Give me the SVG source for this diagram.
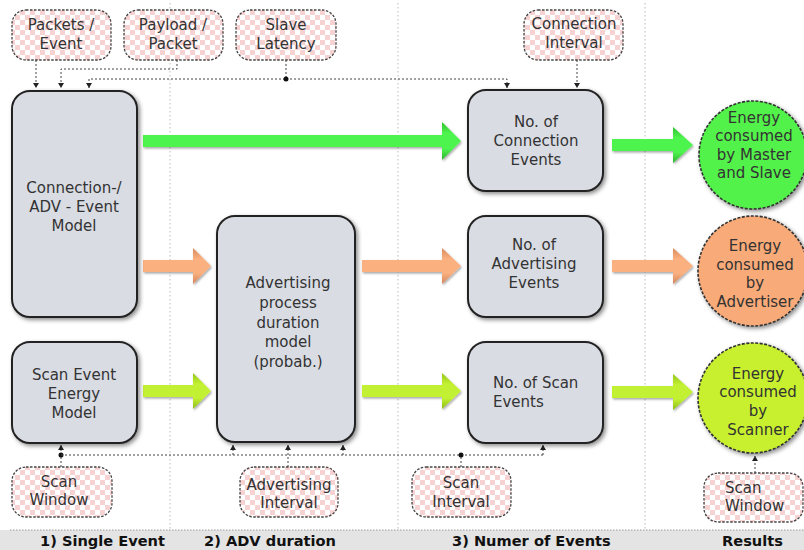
<svg xmlns="http://www.w3.org/2000/svg" width="804" height="550" viewBox="0 0 804 550">
<style>
text{font-family:"DejaVu Sans","Liberation Sans",sans-serif;font-size:15px;fill:#333;text-anchor:middle}
.lbl{font-weight:bold;font-size:14.6px;fill:#111;text-anchor:start}
.param{fill:url(#chk);stroke:#444;stroke-width:1.3;stroke-dasharray:2.5,1.5}
.box{fill:#d9dce3;stroke:#222;stroke-width:2;filter:url(#sh)}
.col{stroke:#bbb;stroke-width:1;stroke-dasharray:1.5,2.5;fill:none}
.con{stroke:#444;stroke-width:1;stroke-dasharray:2,2;fill:none}
.ar{stroke:none;filter:url(#sh2)}
.circ{stroke:#333;stroke-width:1.6;stroke-dasharray:3,1.5;filter:url(#sh)}
</style>
<defs>
<pattern id="chk" patternUnits="userSpaceOnUse" width="10" height="10">
<rect width="10" height="10" fill="#ffffff"/>
<rect width="5" height="5" fill="#f6d2d2"/>
<rect x="5" y="5" width="5" height="5" fill="#f6d2d2"/>
</pattern>
<filter id="sh" x="-20%" y="-20%" width="140%" height="140%">
<feDropShadow dx="2" dy="2" stdDeviation="2" flood-color="#000" flood-opacity="0.45"/>
</filter>
<filter id="sh2" x="-20%" y="-40%" width="140%" height="180%">
<feDropShadow dx="1" dy="1.5" stdDeviation="1.2" flood-color="#000" flood-opacity="0.35"/>
</filter>
<linearGradient id="gG" x1="0" y1="0" x2="0" y2="1">
<stop offset="0" stop-color="#2fc02f"/><stop offset="0.3" stop-color="#4ef44e"/><stop offset="0.7" stop-color="#4ef44e"/><stop offset="1" stop-color="#2fb02f"/>
</linearGradient>
<linearGradient id="gO" x1="0" y1="0" x2="0" y2="1">
<stop offset="0" stop-color="#d98a5c"/><stop offset="0.3" stop-color="#fab07f"/><stop offset="0.7" stop-color="#fab07f"/><stop offset="1" stop-color="#d2845a"/>
</linearGradient>
<linearGradient id="gY" x1="0" y1="0" x2="0" y2="1">
<stop offset="0" stop-color="#93c41a"/><stop offset="0.3" stop-color="#c2f032"/><stop offset="0.7" stop-color="#c2f032"/><stop offset="1" stop-color="#8cbb18"/>
</linearGradient>
<marker id="ah" markerUnits="userSpaceOnUse" markerWidth="6" markerHeight="6" refX="5" refY="3" orient="auto">
<path d="M0,0 L5,3 L0,6 z" fill="#222"/>
</marker>
</defs>

<g id="columns">
<line class="col" x1="170" y1="3" x2="170" y2="550"/>
<line class="col" x1="398" y1="3" x2="398" y2="550"/>
<line class="col" x1="645" y1="3" x2="645" y2="550"/>
</g>

<g id="band">
<rect x="0" y="530" width="804" height="20" fill="#e4e4e4"/>
<line x1="10" y1="530" x2="804" y2="530" stroke="#999" stroke-dasharray="1.5,1.5"/>
<text class="lbl" x="40" y="546">1) Single Event</text>
<text class="lbl" x="204" y="546">2) ADV duration</text>
<text class="lbl" x="452" y="546">3) Numer of Events</text>
<text class="lbl" x="722" y="546">Results</text>
</g>

<g id="connectors">
<path class="con" d="M36,60 V88" marker-end="url(#ah)"/>
<path class="con" d="M177,60 V69 H61 V88" marker-end="url(#ah)"/>
<path class="con" d="M286,60 V79 H89 V88" marker-end="url(#ah)"/>
<path class="con" d="M286,79 H507 V88" marker-end="url(#ah)"/>
<circle cx="286" cy="79" r="2.5" fill="#111"/>
<path class="con" d="M577,60 V88" marker-end="url(#ah)"/>
<path class="con" d="M61,467 V445" marker-end="url(#ah)"/>
<circle cx="61" cy="455" r="2.5" fill="#111"/>
<path class="con" d="M61,455 H543" stroke="#aaa"/>
<path class="con" d="M233,455 V445" marker-end="url(#ah)"/>
<path class="con" d="M343,455 V445" marker-end="url(#ah)"/>
<path class="con" d="M543,455 V445" marker-end="url(#ah)"/>
<path class="con" d="M288,467 V445" marker-end="url(#ah)"/>
<path class="con" d="M461,467 V455"/>
<circle cx="461" cy="455" r="2.5" fill="#111"/>
<path class="con" d="M755,473 V456" marker-end="url(#ah)"/>
</g>

<g id="arrows">
<path class="ar" fill="url(#gG)" d="M143,135 H442 V122 L461,141 L442,160 V147 H143 Z"/>
<path class="ar" fill="url(#gG)" d="M612,139 H673 V127 L693,145 L673,163 V151 H612 Z"/>
<path class="ar" fill="url(#gO)" d="M143,260 H193 V248 L211,266 L193,284 V272 H143 Z"/>
<path class="ar" fill="url(#gO)" d="M362,260 H442 V248 L461,266 L442,284 V272 H362 Z"/>
<path class="ar" fill="url(#gO)" d="M612,260 H673 V248 L693,266 L673,284 V272 H612 Z"/>
<path class="ar" fill="url(#gY)" d="M143,385 H193 V373 L211,391 L193,409 V397 H143 Z"/>
<path class="ar" fill="url(#gY)" d="M362,385 H442 V373 L461,391 L442,409 V397 H362 Z"/>
<path class="ar" fill="url(#gY)" d="M612,386 H673 V374 L693,392 L673,410 V398 H612 Z"/>
</g>

<g id="p-packets"><rect class="param" x="12" y="10" width="99" height="50" rx="14"/><text x="61" y="30">Packets /</text><text x="61" y="49">Event</text></g>
<g id="p-payload"><rect class="param" x="124" y="10" width="99" height="50" rx="14"/><text x="173" y="30">Payload /</text><text x="173" y="49">Packet</text></g>
<g id="p-latency"><rect class="param" x="236" y="10" width="100" height="50" rx="14"/><text x="286" y="30">Slave</text><text x="286" y="49">Latency</text></g>
<g id="p-conninterval"><rect class="param" x="524" y="10" width="99" height="50" rx="14"/><text x="574" y="29">Connection</text><text x="574" y="48">Interval</text></g>
<g id="p-scanwindow1"><rect class="param" x="12" y="467" width="100" height="50" rx="14"/><text x="59" y="487">Scan</text><text x="59" y="505">Window</text></g>
<g id="p-advinterval"><rect class="param" x="240" y="467" width="98" height="50" rx="14"/><text x="289" y="490">Advertising</text><text x="289" y="508">Interval</text></g>
<g id="p-scaninterval"><rect class="param" x="412" y="467" width="99" height="50" rx="14"/><text x="461" y="488">Scan</text><text x="461" y="507">Interval</text></g>
<g id="p-scanwindow2"><rect class="param" x="704" y="473" width="99" height="49" rx="14"/><text x="725" y="493" style="text-anchor:start">Scan</text><text x="725" y="511" style="text-anchor:start">Window</text></g>

<g id="n-connmodel"><rect class="box" x="12" y="91" width="125" height="226" rx="18"/><text x="74" y="193">Connection-/</text><text x="74" y="212">ADV - Event</text><text x="74" y="231">Model</text></g>
<g id="n-scanmodel"><rect class="box" x="12" y="342" width="125" height="101" rx="18"/><text x="74" y="380">Scan Event</text><text x="74" y="399">Energy</text><text x="74" y="418">Model</text></g>
<g id="n-advprocess"><rect class="box" x="217" y="216" width="138" height="226" rx="18"/><text x="288" y="288">Advertising</text><text x="288" y="308">process</text><text x="288" y="328">duration</text><text x="288" y="347">model</text><text x="288" y="367">(probab.)</text></g>
<g id="n-connevents"><rect class="box" x="468" y="90" width="135" height="101" rx="18"/><text x="536" y="127">No. of</text><text x="536" y="146">Connection</text><text x="536" y="165">Events</text></g>
<g id="n-advevents"><rect class="box" x="468" y="216" width="135" height="101" rx="18"/><text x="534" y="250">No. of</text><text x="534" y="269">Advertising</text><text x="534" y="288">Events</text></g>
<g id="n-scanevents"><rect class="box" x="468" y="342" width="135" height="101" rx="18"/><text x="493" y="388" style="text-anchor:start">No. of Scan</text><text x="493" y="407" style="text-anchor:start">Events</text></g>

<g id="r-master"><circle class="circ" cx="753" cy="155" r="54" fill="#52f24c"/><text x="754" y="123">Energy</text><text x="754" y="141">consumed</text><text x="754" y="160">by Master</text><text x="754" y="178">and Slave</text></g>
<g id="r-advertiser"><circle class="circ" cx="753" cy="271" r="55" fill="#f8aa78"/><text x="755" y="251">Energy</text><text x="755" y="270">consumed</text><text x="755" y="288">by</text><text x="755" y="307">Advertiser</text></g>
<g id="r-scanner"><circle class="circ" cx="753" cy="398" r="55" fill="#c8f02e"/><text x="758" y="379">Energy</text><text x="758" y="397">consumed</text><text x="758" y="416">by</text><text x="758" y="435">Scanner</text></g>
</svg>
